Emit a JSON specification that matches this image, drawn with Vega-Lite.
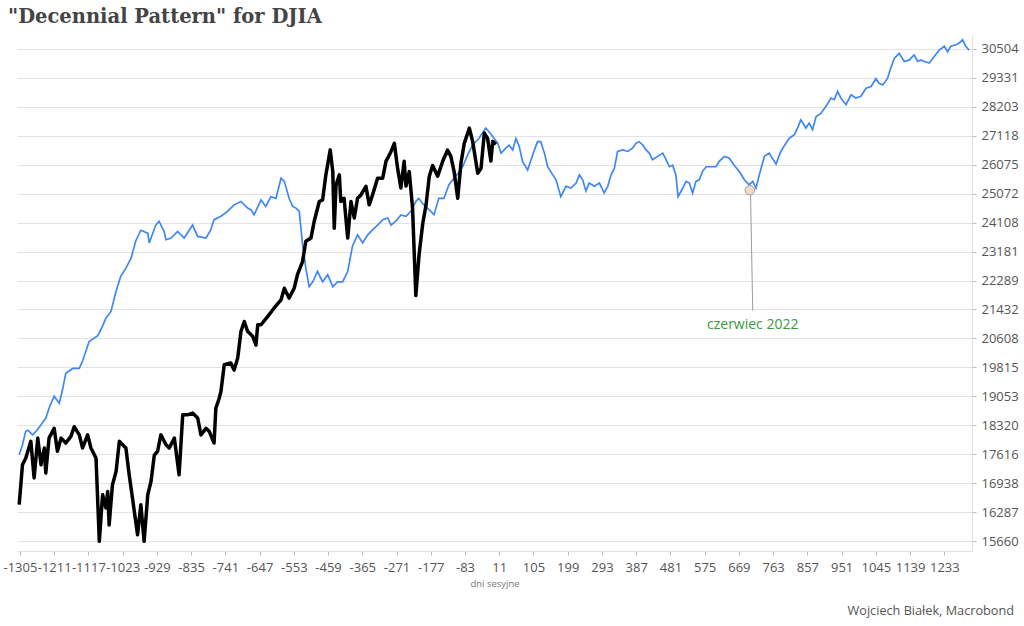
{
  "$schema": "https://vega.github.io/schema/vega-lite/v6.json",
  "background": "white",
  "padding": {"left": 2, "top": 6, "right": 5, "bottom": 8},
  "title": {"text": "\"Decennial Pattern\" for DJIA", "anchor": "start", "frame": "group", "font": "DejaVu Serif", "fontSize": 19.5, "fontWeight": "bold", "color": "#444444", "offset": 9, "dx": -9},
  "config": {
    "view": {"stroke": null},
    "axis": {"labelFont": "Open Sans", "labelFontSize": 13, "labelColor": "#555555", "tickColor": "#bbbbbb", "tickSize": 4, "domainColor": "#e0e0e0", "gridColor": "#e3e3e3", "titleFont": "Open Sans", "titleFontWeight": "normal"},
    "axisX": {"labelOverlap": false, "labelFlush": false}
  },
  "datasets": {
    "blue": [
      {"d": -1307, "v": 17605}, {"d": -1298, "v": 17848}, {"d": -1289, "v": 18175}, {"d": -1283, "v": 18199}, {"d": -1270, "v": 18087}, {"d": -1258, "v": 18199}, {"d": -1247, "v": 18337}, {"d": -1234, "v": 18504}, {"d": -1223, "v": 18801}, {"d": -1211, "v": 19058}, {"d": -1197, "v": 18876}, {"d": -1187, "v": 19272}, {"d": -1179, "v": 19659}, {"d": -1160, "v": 19788}, {"d": -1142, "v": 19788}, {"d": -1133, "v": 19989}, {"d": -1115, "v": 20525}, {"d": -1092, "v": 20678}, {"d": -1083, "v": 20845}, {"d": -1069, "v": 21180}, {"d": -1055, "v": 21375}, {"d": -1041, "v": 21969}, {"d": -1028, "v": 22425}, {"d": -1014, "v": 22667}, {"d": -1000, "v": 22969}, {"d": -987, "v": 23514}, {"d": -973, "v": 23859}, {"d": -954, "v": 23765}, {"d": -950, "v": 23451}, {"d": -932, "v": 24026}, {"d": -923, "v": 24151}, {"d": -909, "v": 23818}, {"d": -904, "v": 23555}, {"d": -890, "v": 23608}, {"d": -872, "v": 23818}, {"d": -854, "v": 23608}, {"d": -831, "v": 24026}, {"d": -817, "v": 23661}, {"d": -794, "v": 23608}, {"d": -781, "v": 23869}, {"d": -772, "v": 24203}, {"d": -753, "v": 24314}, {"d": -735, "v": 24478}, {"d": -717, "v": 24693}, {"d": -698, "v": 24805}, {"d": -680, "v": 24585}, {"d": -671, "v": 24530}, {"d": -662, "v": 24366}, {"d": -643, "v": 24857}, {"d": -630, "v": 24641}, {"d": -616, "v": 24968}, {"d": -602, "v": 24912}, {"d": -588, "v": 25602}, {"d": -579, "v": 25490}, {"d": -566, "v": 24912}, {"d": -556, "v": 24641}, {"d": -547, "v": 24585}, {"d": -538, "v": 24478}, {"d": -529, "v": 23398}, {"d": -520, "v": 22667}, {"d": -511, "v": 22105}, {"d": -501, "v": 22250}, {"d": -488, "v": 22567}, {"d": -474, "v": 22250}, {"d": -460, "v": 22464}, {"d": -446, "v": 22105}, {"d": -433, "v": 22250}, {"d": -419, "v": 22250}, {"d": -405, "v": 22567}, {"d": -392, "v": 23347}, {"d": -378, "v": 23712}, {"d": -364, "v": 23451}, {"d": -350, "v": 23712}, {"d": -337, "v": 23869}, {"d": -323, "v": 24026}, {"d": -309, "v": 24203}, {"d": -295, "v": 24258}, {"d": -286, "v": 24026}, {"d": -273, "v": 24151}, {"d": -259, "v": 24357}, {"d": -245, "v": 24314}, {"d": -231, "v": 24487}, {"d": -218, "v": 24805}, {"d": -210, "v": 24912}, {"d": -198, "v": 24716}, {"d": -186, "v": 24585}, {"d": -168, "v": 24366}, {"d": -155, "v": 24912}, {"d": -141, "v": 24912}, {"d": -127, "v": 25375}, {"d": -113, "v": 25602}, {"d": -100, "v": 25806}, {"d": -89, "v": 26010}, {"d": -76, "v": 26414}, {"d": -62, "v": 26777}, {"d": -45, "v": 27014}, {"d": -26, "v": 27397}, {"d": -12, "v": 27177}, {"d": -3, "v": 27014}, {"d": 7, "v": 26837}, {"d": 16, "v": 26484}, {"d": 29, "v": 26661}, {"d": 38, "v": 26767}, {"d": 48, "v": 26601}, {"d": 57, "v": 27014}, {"d": 66, "v": 26721}, {"d": 75, "v": 26191}, {"d": 89, "v": 25885}, {"d": 103, "v": 26424}, {"d": 116, "v": 26897}, {"d": 125, "v": 26897}, {"d": 135, "v": 26484}, {"d": 144, "v": 26000}, {"d": 158, "v": 25715}, {"d": 167, "v": 25545}, {"d": 180, "v": 24968}, {"d": 194, "v": 25320}, {"d": 208, "v": 25262}, {"d": 222, "v": 25432}, {"d": 231, "v": 25715}, {"d": 240, "v": 25545}, {"d": 249, "v": 25160}, {"d": 258, "v": 25432}, {"d": 272, "v": 25320}, {"d": 286, "v": 25432}, {"d": 299, "v": 25092}, {"d": 309, "v": 25320}, {"d": 318, "v": 25715}, {"d": 327, "v": 25942}, {"d": 336, "v": 26544}, {"d": 350, "v": 26601}, {"d": 364, "v": 26544}, {"d": 377, "v": 26661}, {"d": 386, "v": 26837}, {"d": 395, "v": 26897}, {"d": 405, "v": 26777}, {"d": 414, "v": 26601}, {"d": 423, "v": 26484}, {"d": 432, "v": 26248}, {"d": 446, "v": 26368}, {"d": 460, "v": 26484}, {"d": 469, "v": 26248}, {"d": 478, "v": 26000}, {"d": 487, "v": 26055}, {"d": 496, "v": 25715}, {"d": 502, "v": 24968}, {"d": 515, "v": 25262}, {"d": 524, "v": 25490}, {"d": 533, "v": 25432}, {"d": 542, "v": 25092}, {"d": 551, "v": 25490}, {"d": 560, "v": 25545}, {"d": 569, "v": 25830}, {"d": 579, "v": 26000}, {"d": 592, "v": 26000}, {"d": 606, "v": 26000}, {"d": 615, "v": 26191}, {"d": 629, "v": 26368}, {"d": 642, "v": 26308}, {"d": 656, "v": 26055}, {"d": 670, "v": 25830}, {"d": 684, "v": 25545}, {"d": 697, "v": 25375}, {"d": 707, "v": 25490}, {"d": 716, "v": 25262}, {"d": 725, "v": 25715}, {"d": 739, "v": 26368}, {"d": 752, "v": 26484}, {"d": 771, "v": 26096}, {"d": 784, "v": 26544}, {"d": 798, "v": 26837}, {"d": 807, "v": 27014}, {"d": 821, "v": 27151}, {"d": 830, "v": 27397}, {"d": 839, "v": 27702}, {"d": 853, "v": 27397}, {"d": 862, "v": 27580}, {"d": 871, "v": 27335}, {"d": 881, "v": 27826}, {"d": 894, "v": 27947}, {"d": 908, "v": 28218}, {"d": 922, "v": 28535}, {"d": 931, "v": 28470}, {"d": 940, "v": 28791}, {"d": 949, "v": 28535}, {"d": 963, "v": 28279}, {"d": 977, "v": 28661}, {"d": 990, "v": 28535}, {"d": 1004, "v": 28600}, {"d": 1018, "v": 28917}, {"d": 1032, "v": 28982}, {"d": 1045, "v": 29299}, {"d": 1054, "v": 29108}, {"d": 1064, "v": 29043}, {"d": 1077, "v": 29299}, {"d": 1086, "v": 29716}, {"d": 1096, "v": 30113}, {"d": 1109, "v": 30312}, {"d": 1123, "v": 29982}, {"d": 1137, "v": 30046}, {"d": 1150, "v": 30244}, {"d": 1160, "v": 29982}, {"d": 1169, "v": 30046}, {"d": 1178, "v": 29982}, {"d": 1192, "v": 29915}, {"d": 1205, "v": 30181}, {"d": 1219, "v": 30443}, {"d": 1233, "v": 30603}, {"d": 1242, "v": 30379}, {"d": 1251, "v": 30603}, {"d": 1265, "v": 30669}, {"d": 1274, "v": 30739}, {"d": 1283, "v": 30876}, {"d": 1292, "v": 30603}, {"d": 1301, "v": 30443}
    ],
    "black": [
      {"d": -1307, "v": 16457}, {"d": -1298, "v": 17368}, {"d": -1289, "v": 17522}, {"d": -1275, "v": 17929}, {"d": -1266, "v": 17062}, {"d": -1256, "v": 18008}, {"d": -1247, "v": 17368}, {"d": -1238, "v": 17769}, {"d": -1234, "v": 17177}, {"d": -1225, "v": 18008}, {"d": -1211, "v": 18247}, {"d": -1202, "v": 17690}, {"d": -1192, "v": 18008}, {"d": -1179, "v": 17888}, {"d": -1165, "v": 18049}, {"d": -1156, "v": 18288}, {"d": -1142, "v": 18087}, {"d": -1133, "v": 17769}, {"d": -1119, "v": 18087}, {"d": -1110, "v": 17769}, {"d": -1096, "v": 17522}, {"d": -1087, "v": 15660}, {"d": -1078, "v": 16678}, {"d": -1069, "v": 16384}, {"d": -1064, "v": 16753}, {"d": -1060, "v": 16012}, {"d": -1051, "v": 16899}, {"d": -1041, "v": 17216}, {"d": -1032, "v": 17929}, {"d": -1023, "v": 17848}, {"d": -1014, "v": 17769}, {"d": -1005, "v": 17138}, {"d": -996, "v": 16605}, {"d": -982, "v": 15800}, {"d": -973, "v": 16457}, {"d": -964, "v": 15660}, {"d": -954, "v": 16678}, {"d": -945, "v": 16986}, {"d": -936, "v": 17598}, {"d": -927, "v": 17690}, {"d": -918, "v": 18087}, {"d": -904, "v": 17848}, {"d": -895, "v": 17769}, {"d": -881, "v": 18008}, {"d": -868, "v": 17138}, {"d": -858, "v": 18585}, {"d": -845, "v": 18585}, {"d": -831, "v": 18628}, {"d": -817, "v": 18504}, {"d": -808, "v": 18087}, {"d": -794, "v": 18247}, {"d": -785, "v": 18168}, {"d": -772, "v": 17888}, {"d": -767, "v": 18752}, {"d": -758, "v": 19000}, {"d": -753, "v": 19187}, {"d": -744, "v": 19890}, {"d": -726, "v": 19936}, {"d": -717, "v": 19744}, {"d": -707, "v": 20070}, {"d": -698, "v": 20809}, {"d": -689, "v": 21088}, {"d": -680, "v": 20809}, {"d": -666, "v": 20669}, {"d": -657, "v": 20426}, {"d": -652, "v": 20993}, {"d": -643, "v": 20993}, {"d": -625, "v": 21227}, {"d": -607, "v": 21476}, {"d": -588, "v": 21716}, {"d": -579, "v": 22056}, {"d": -566, "v": 21766}, {"d": -552, "v": 22056}, {"d": -543, "v": 22464}, {"d": -529, "v": 22869}, {"d": -520, "v": 23504}, {"d": -506, "v": 23608}, {"d": -497, "v": 24151}, {"d": -483, "v": 24805}, {"d": -474, "v": 24857}, {"d": -465, "v": 25715}, {"d": -453, "v": 26601}, {"d": -446, "v": 25830}, {"d": -442, "v": 23922}, {"d": -437, "v": 25375}, {"d": -428, "v": 25715}, {"d": -424, "v": 24805}, {"d": -415, "v": 24912}, {"d": -405, "v": 23608}, {"d": -396, "v": 24805}, {"d": -387, "v": 24258}, {"d": -378, "v": 24912}, {"d": -369, "v": 25020}, {"d": -355, "v": 25320}, {"d": -346, "v": 24693}, {"d": -337, "v": 25020}, {"d": -323, "v": 25602}, {"d": -309, "v": 25602}, {"d": -300, "v": 26191}, {"d": -286, "v": 26544}, {"d": -277, "v": 26837}, {"d": -268, "v": 25942}, {"d": -259, "v": 25262}, {"d": -250, "v": 26191}, {"d": -245, "v": 25330}, {"d": -236, "v": 25830}, {"d": -227, "v": 24585}, {"d": -218, "v": 21838}, {"d": -209, "v": 23089}, {"d": -199, "v": 24079}, {"d": -190, "v": 24684}, {"d": -181, "v": 25670}, {"d": -172, "v": 26044}, {"d": -158, "v": 25670}, {"d": -144, "v": 26202}, {"d": -131, "v": 26590}, {"d": -122, "v": 26379}, {"d": -113, "v": 25840}, {"d": -103, "v": 24912}, {"d": -94, "v": 26131}, {"d": -85, "v": 26837}, {"d": -71, "v": 27397}, {"d": -62, "v": 26908}, {"d": -48, "v": 25772}, {"d": -39, "v": 25942}, {"d": -30, "v": 27213}, {"d": -21, "v": 27014}, {"d": -12, "v": 26202}, {"d": -7, "v": 26908}, {"d": 2, "v": 26802}
    ],
    "note": [
      {"d": 699, "v": 25185, "d2": 707, "v2": 21397, "dr": 701, "vr": 25014, "dt": 707, "vt": 20997, "label": "czerwiec 2022"}
    ]
  },
  "vconcat": [
    {
      "width": 955,
      "height": 515,
      "title": {"text": "Wojciech Białek, Macrobond", "orient": "bottom", "anchor": "end", "frame": "group", "font": "Open Sans", "fontSize": 12.7, "fontWeight": "normal", "color": "#555555", "offset": 17, "dx": 42},
      "layer": [
        {
          "data": {"name": "blue"},
          "mark": {"type": "line", "color": "#3f88f2", "strokeWidth": 1.7},
          "encoding": {
            "x": {"field": "d", "type": "quantitative", "scale": {"domain": [-1313, 1309], "nice": false, "zero": false},
              "axis": {"values": [-1305, -1211, -1117, -1023, -929, -835, -741, -647, -553, -459, -365, -271, -177, -83, 11, 105, 199, 293, 387, 481, 575, 669, 763, 857, 951, 1045, 1139, 1233], "tickCount": 40, "labelExpr": "'' + datum.value", "grid": false, "labelOverlap": false, "labelFlush": false, "labelPadding": 6, "title": "dni sesyjne", "titleFontSize": 9.5, "titleColor": "#777777", "titlePadding": 4}},
            "y": {"field": "v", "type": "quantitative", "scale": {"type": "log", "domain": [15456, 31033], "nice": false},
              "axis": {"orient": "right", "values": [15660, 16287, 16938, 17616, 18320, 19053, 19815, 20608, 21432, 22289, 23181, 24108, 25072, 26075, 27118, 28203, 29331, 30504], "tickCount": 40, "labelExpr": "'' + datum.value", "grid": true, "title": null, "labelPadding": 5}}
          }
        },
        {
          "data": {"name": "black"},
          "mark": {"type": "line", "color": "#000000", "strokeWidth": 3.5, "strokeJoin": "round"},
          "encoding": {
            "x": {"field": "d", "type": "quantitative", "scale": {"domain": [-1313, 1309], "nice": false, "zero": false}},
            "y": {"field": "v", "type": "quantitative", "scale": {"type": "log", "domain": [15456, 31033], "nice": false}}
          }
        },
        {
          "data": {"name": "note"},
          "mark": {"type": "rule", "color": "#9a9a9a", "strokeWidth": 1},
          "encoding": {
            "x": {"field": "dr", "type": "quantitative", "scale": {"domain": [-1313, 1309], "nice": false, "zero": false}},
            "y": {"field": "vr", "type": "quantitative", "scale": {"type": "log", "domain": [15456, 31033], "nice": false}},
            "x2": {"field": "d2"},
            "y2": {"field": "v2"}
          }
        },
        {
          "data": {"name": "note"},
          "mark": {"type": "point", "shape": "circle", "filled": true, "size": 90, "fill": "#f7d8c8", "stroke": "#9a9a9a", "strokeWidth": 1, "opacity": 1},
          "encoding": {
            "x": {"field": "d", "type": "quantitative", "scale": {"domain": [-1313, 1309], "nice": false, "zero": false}},
            "y": {"field": "v", "type": "quantitative", "scale": {"type": "log", "domain": [15456, 31033], "nice": false}}
          }
        },
        {
          "data": {"name": "note"},
          "mark": {"type": "text", "font": "Open Sans", "fontSize": 14, "color": "#3a9a3a", "align": "center", "baseline": "middle"},
          "encoding": {
            "x": {"field": "dt", "type": "quantitative", "scale": {"domain": [-1313, 1309], "nice": false, "zero": false}},
            "y": {"field": "vt", "type": "quantitative", "scale": {"type": "log", "domain": [15456, 31033], "nice": false}},
            "text": {"field": "label"}
          }
        }
      ]
    }
  ]
}
